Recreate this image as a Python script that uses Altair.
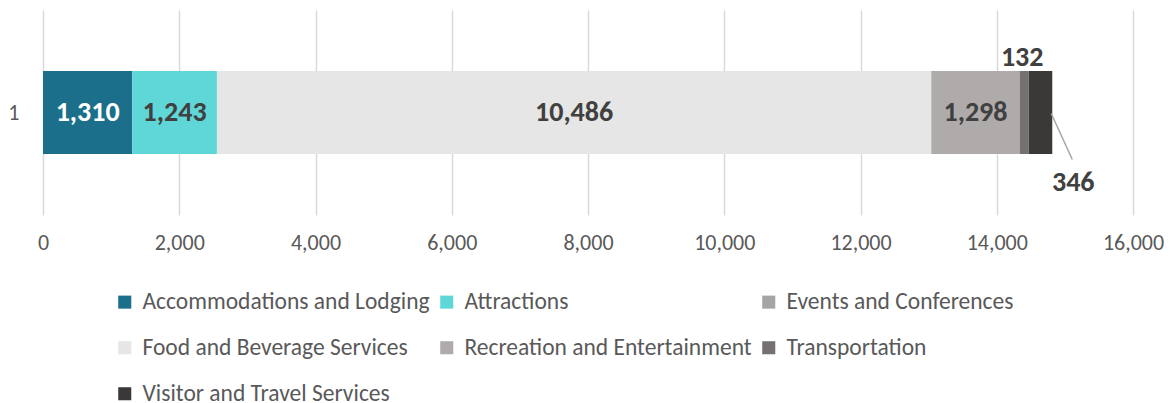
import altair as alt
import pandas as pd

categories = [
    "Accommodations and Lodging",
    "Attractions",
    "Events and Conferences",
    "Food and Beverage Services",
    "Recreation and Entertainment",
    "Transportation",
    "Visitor and Travel Services",
]
values = [1310, 1243, 0, 10486, 1298, 132, 346]
colors = ["#1B6F8A", "#5FD7D9", "#A5A5A5", "#E6E6E6", "#AFABAB", "#767171", "#3B3838"]
label_colors = ["#FFFFFF", "#404040", "#404040", "#404040", "#404040", "#404040", "#404040"]
label_pos = ["inside", "inside", "none", "inside", "inside", "above", "below"]
row_labels = ["1"] * len(categories)
x_ticks = [0, 2000, 4000, 6000, 8000, 10000, 12000, 14000, 16000]

df = pd.DataFrame({
    "series": categories,
    "value": values,
    "ord": list(range(len(categories))),
    "row": row_labels,
    "lc": label_colors,
    "pos": label_pos,
})

FONT = "Carlito, Lato, sans-serif"
LBL = 28

base = alt.Chart(df).transform_stack(
    stack="value", as_=["start", "end"], groupby=["row"], sort=[alt.SortField("ord")]
).transform_calculate(mid="(datum.start + datum.end) / 2")

xscale = alt.Scale(domain=[0, 16000], nice=False)
yscale = alt.Scale(paddingInner=0, paddingOuter=0.735)

y_enc = alt.Y("row:N", scale=yscale, title=None,
              axis=alt.Axis(domain=False, ticks=False, labelPadding=24, labelFontSize=22,
                            labelColor="#595959", labelFont=FONT))

bars = base.mark_bar().encode(
    x=alt.X("start:Q", scale=xscale, title=None,
            axis=alt.Axis(values=x_ticks, format=",d", domain=False, ticks=False, grid=True,
                          gridColor="#D9D9D9", gridWidth=1.5, labelPadding=17,
                          labelFlush=False, labelOverlap=False,
                          labelFontSize=22, labelColor="#595959", labelFont=FONT)),
    x2="end:Q",
    y=y_enc,
    color=alt.Color("series:N", scale=alt.Scale(domain=categories, range=colors),
                    sort=categories,
                    legend=alt.Legend(title=None, orient="none", legendX=70, legendY=280,
                                      columns=3, direction="horizontal", symbolType="square",
                                      symbolSize=170, symbolStrokeWidth=0, labelFontSize=23.5,
                                      labelColor="#595959", labelFont=FONT, rowPadding=21,
                                      columnPadding=5, labelOffset=6, labelLimit=500,
                                      gridAlign="each")),
    order=alt.Order("ord:Q"),
)

inside = base.transform_filter("datum.pos == 'inside'").mark_text(
    fontSize=LBL, fontWeight="bold", font=FONT
).encode(
    x=alt.X("mid:Q", scale=xscale),
    y=alt.Y("row:N", scale=yscale),
    text=alt.Text("value:Q", format=",d"),
    color=alt.Color("lc:N", scale=None),
)

above = base.transform_filter("datum.pos == 'above'").mark_text(
    fontSize=LBL, fontWeight="bold", font=FONT, dy=-55, dx=-2, color="#404040"
).encode(
    x=alt.X("mid:Q", scale=xscale),
    y=alt.Y("row:N", scale=yscale),
    text=alt.Text("value:Q", format=",d"),
)

below = base.transform_filter("datum.pos == 'below'").mark_text(
    fontSize=LBL, fontWeight="bold", font=FONT, dy=70, dx=21, color="#404040"
).encode(
    x=alt.X("end:Q", scale=xscale),
    y=alt.Y("row:N", scale=yscale),
    text=alt.Text("value:Q", format=",d"),
)

leader = base.transform_filter("datum.pos == 'below'").mark_rule(
    color="#A6A6A6", strokeWidth=1.5, xOffset=-1, x2Offset=20, yOffset=1, y2Offset=47
).encode(
    x=alt.X("end:Q", scale=xscale),
    x2="end:Q",
    y=alt.Y("row:N", scale=yscale),
    y2="row:N",
)

chart = alt.layer(bars, inside, above, below, leader).properties(
    width=1090, height=205,
    autosize=alt.AutoSizeParams(type="none"),
    padding={"left": 35, "top": 2, "right": 31, "bottom": 190},
).configure_view(stroke=None)

chart.save("out.html", embed_options={"renderer": "svg", "actions": False})
